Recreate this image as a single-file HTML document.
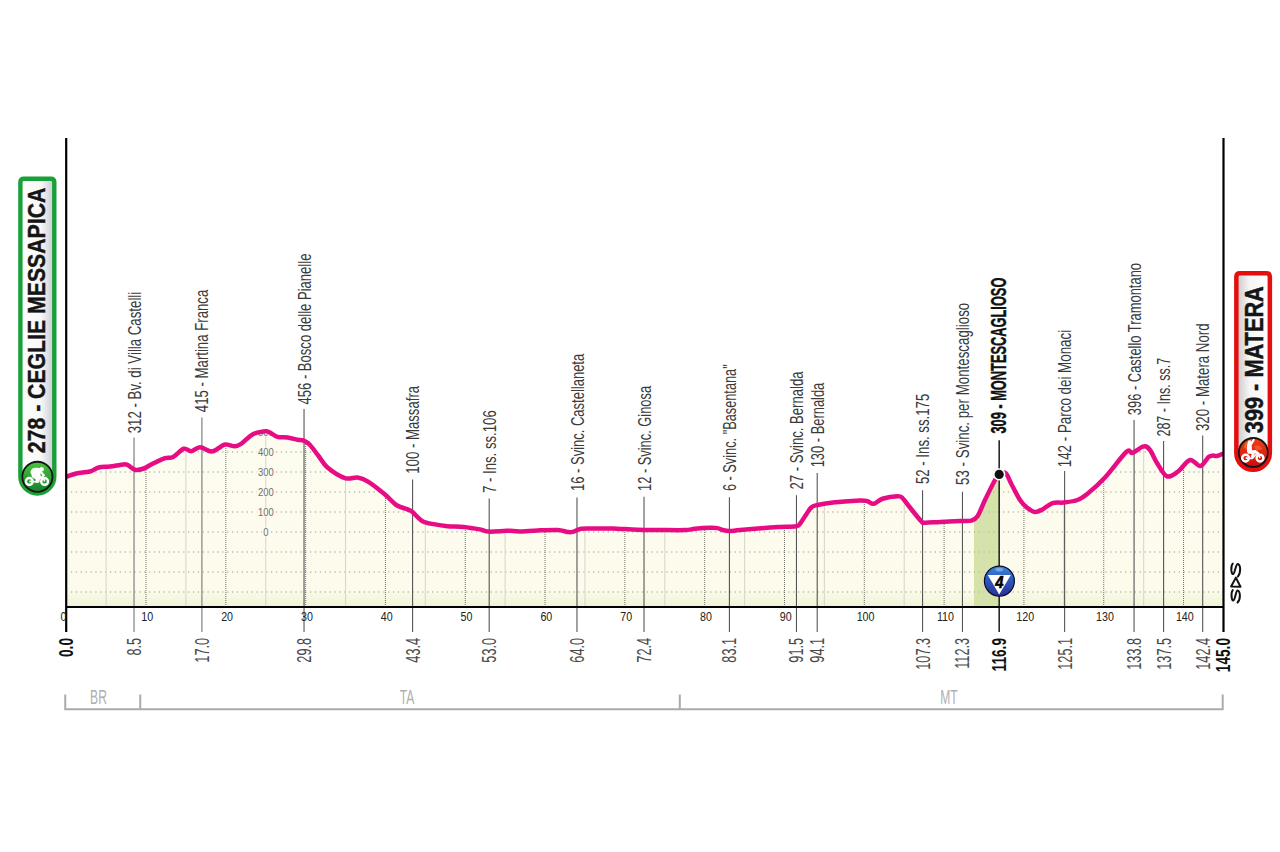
<!DOCTYPE html>
<html><head><meta charset="utf-8"><style>
html,body{margin:0;padding:0;background:#fff;width:1280px;height:852px;overflow:hidden}
svg{display:block}
text{font-family:"Liberation Sans",sans-serif}
</style></head><body>
<svg width="1280" height="852" viewBox="0 0 1280 852">
<defs>
<linearGradient id="fillg" x1="0" y1="430" x2="0" y2="607" gradientUnits="userSpaceOnUse">
<stop offset="0" stop-color="#FDFCF0"/><stop offset="0.9" stop-color="#FCFBEC"/><stop offset="1" stop-color="#F0F3D6"/>
</linearGradient>
<clipPath id="fclip"><path d="M66.20,476.90 C67.88,476.33 72.28,474.40 76.25,473.50 C80.22,472.60 86.25,472.50 90.00,471.50 C93.75,470.50 95.42,468.33 98.75,467.50 C102.08,466.67 105.83,467.02 110.00,466.50 C114.17,465.98 120.73,464.61 123.75,464.40 C126.77,464.19 126.22,464.36 128.10,465.25 C129.97,466.14 132.39,469.21 135.00,469.75 C137.61,470.29 140.83,469.50 143.75,468.50 C146.67,467.50 148.96,465.48 152.50,463.75 C156.04,462.02 161.57,459.24 165.00,458.10 C168.43,456.96 169.97,458.46 173.10,456.90 C176.22,455.34 180.72,449.69 183.75,448.75 C186.78,447.81 188.54,451.50 191.25,451.25 C193.96,451.00 196.67,447.21 200.00,447.25 C203.33,447.29 208.12,451.36 211.25,451.50 C214.38,451.64 216.46,449.28 218.75,448.10 C221.04,446.92 222.29,444.71 225.00,444.40 C227.71,444.09 232.29,446.36 235.00,446.25 C237.71,446.14 238.33,445.73 241.25,443.75 C244.17,441.77 248.54,436.48 252.50,434.40 C256.46,432.32 262.08,431.57 265.00,431.25 C267.92,430.93 267.92,431.56 270.00,432.50 C272.08,433.44 274.58,436.07 277.50,436.90 C280.42,437.73 284.17,437.02 287.50,437.50 C290.83,437.98 294.79,439.23 297.50,439.75 C300.21,440.27 301.67,439.73 303.75,440.60 C305.83,441.48 307.50,442.39 310.00,445.00 C312.50,447.61 315.83,452.50 318.75,456.25 C321.67,460.00 323.12,463.86 327.50,467.50 C331.88,471.14 340.00,476.43 345.00,478.10 C350.00,479.77 353.67,476.92 357.50,477.50 C361.33,478.08 363.42,478.77 368.00,481.60 C372.58,484.43 380.29,490.60 385.00,494.50 C389.71,498.40 392.50,502.52 396.25,505.00 C400.00,507.48 404.79,508.23 407.50,509.40 C410.21,510.57 410.00,510.03 412.50,512.00 C415.00,513.97 418.75,519.13 422.50,521.20 C426.25,523.27 430.83,523.57 435.00,524.40 C439.17,525.23 442.71,525.78 447.50,526.20 C452.29,526.62 458.33,526.37 463.75,526.90 C469.17,527.43 475.83,528.62 480.00,529.40 C484.17,530.18 484.79,531.33 488.75,531.60 C492.71,531.87 500.21,531.13 503.75,531.00 C507.29,530.87 507.29,530.73 510.00,530.80 C512.71,530.87 515.42,531.47 520.00,531.40 C524.58,531.33 531.25,530.63 537.50,530.40 C543.75,530.17 552.50,529.75 557.50,530.00 C562.50,530.25 565.00,531.58 567.50,531.90 C570.00,532.22 570.21,532.42 572.50,531.90 C574.79,531.38 577.50,529.32 581.25,528.75 C585.00,528.18 589.79,528.54 595.00,528.50 C600.21,528.46 605.42,528.29 612.50,528.50 C619.58,528.71 629.58,529.50 637.50,529.75 C645.42,530.00 652.08,529.94 660.00,530.00 C667.92,530.06 679.17,530.31 685.00,530.10 C690.83,529.89 690.83,529.13 695.00,528.75 C699.17,528.37 706.25,527.91 710.00,527.80 C713.75,527.69 715.42,527.73 717.50,528.10 C719.58,528.47 720.52,529.52 722.50,530.00 C724.48,530.48 726.48,530.98 729.40,531.00 C732.32,531.02 733.23,530.68 740.00,530.10 C746.77,529.52 763.33,528.03 770.00,527.50 C776.67,526.97 775.62,527.11 780.00,526.90 C784.38,526.69 792.92,526.77 796.25,526.25 C799.58,525.73 798.54,525.42 800.00,523.75 C801.46,522.08 803.12,518.96 805.00,516.25 C806.88,513.54 809.17,509.38 811.25,507.50 C813.33,505.62 813.54,505.88 817.50,505.00 C821.46,504.12 827.92,503.02 835.00,502.25 C842.08,501.48 854.58,500.57 860.00,500.40 C865.42,500.23 865.21,500.69 867.50,501.25 C869.79,501.81 871.25,504.17 873.75,503.75 C876.25,503.33 878.54,500.00 882.50,498.75 C886.46,497.50 894.17,496.36 897.50,496.25 C900.83,496.14 900.42,496.23 902.50,498.10 C904.58,499.98 906.88,503.64 910.00,507.50 C913.12,511.36 918.75,518.71 921.25,521.25 C923.75,523.79 921.88,522.64 925.00,522.75 C928.12,522.86 934.17,522.19 940.00,521.90 C945.83,521.61 954.79,521.22 960.00,521.00 C965.21,520.78 968.33,521.39 971.25,520.60 C974.17,519.81 975.21,519.68 977.50,516.25 C979.79,512.82 982.08,506.04 985.00,500.00 C987.92,493.96 992.60,484.27 995.00,480.00 C997.40,475.73 997.63,475.55 999.40,474.40 C1001.17,473.25 1003.62,471.54 1005.60,473.10 C1007.58,474.66 1008.85,479.27 1011.25,483.75 C1013.65,488.23 1017.29,495.94 1020.00,500.00 C1022.71,504.06 1025.00,506.12 1027.50,508.10 C1030.00,510.08 1032.50,511.68 1035.00,511.90 C1037.50,512.12 1039.58,510.87 1042.50,509.40 C1045.42,507.93 1048.96,504.25 1052.50,503.10 C1056.04,501.95 1059.58,503.02 1063.75,502.50 C1067.92,501.98 1073.54,501.46 1077.50,500.00 C1081.46,498.54 1082.92,497.50 1087.50,493.75 C1092.08,490.00 1098.54,484.46 1105.00,477.50 C1111.46,470.54 1121.67,456.12 1126.25,452.00 C1130.83,447.88 1129.58,453.73 1132.50,452.80 C1135.42,451.87 1140.83,446.87 1143.75,446.40 C1146.67,445.93 1147.79,447.23 1150.00,450.00 C1152.21,452.77 1154.17,458.62 1157.00,463.00 C1159.83,467.38 1163.50,474.88 1167.00,476.30 C1170.50,477.72 1174.17,474.22 1178.00,471.50 C1181.83,468.78 1186.28,460.92 1190.00,460.00 C1193.72,459.08 1197.22,466.50 1200.30,466.00 C1203.38,465.50 1206.38,458.73 1208.50,457.00 C1210.62,455.27 1211.58,455.77 1213.00,455.60 C1214.42,455.43 1215.25,456.35 1217.00,456.00 C1218.75,455.65 1222.42,453.92 1223.50,453.50 L1223.50,607.00 L66.20,607.00 Z"/></clipPath>
<linearGradient id="gbad" x1="0" y1="0" x2="1" y2="0">
<stop offset="0" stop-color="#ffffff"/><stop offset="0.6" stop-color="#f8f8f8"/><stop offset="1" stop-color="#c8c8d0"/>
</linearGradient>
<linearGradient id="rbad" x1="0" y1="0" x2="1" y2="0">
<stop offset="0" stop-color="#c8c8cc"/><stop offset="0.4" stop-color="#f6f6f6"/><stop offset="1" stop-color="#ffffff"/>
</linearGradient>
<linearGradient id="gcirc" x1="0" y1="0" x2="0" y2="1">
<stop offset="0" stop-color="#4CC23F"/><stop offset="1" stop-color="#17802A"/>
</linearGradient>
<linearGradient id="rcirc" x1="0" y1="0" x2="0" y2="1">
<stop offset="0" stop-color="#F0401A"/><stop offset="1" stop-color="#D00A0A"/>
</linearGradient>
<linearGradient id="bcirc" x1="0" y1="0" x2="0" y2="1">
<stop offset="0" stop-color="#3F86DA"/><stop offset="0.35" stop-color="#2E62C0"/><stop offset="1" stop-color="#2A2F9A"/>
</linearGradient>
</defs>

<path d="M66.20,476.90 C67.88,476.33 72.28,474.40 76.25,473.50 C80.22,472.60 86.25,472.50 90.00,471.50 C93.75,470.50 95.42,468.33 98.75,467.50 C102.08,466.67 105.83,467.02 110.00,466.50 C114.17,465.98 120.73,464.61 123.75,464.40 C126.77,464.19 126.22,464.36 128.10,465.25 C129.97,466.14 132.39,469.21 135.00,469.75 C137.61,470.29 140.83,469.50 143.75,468.50 C146.67,467.50 148.96,465.48 152.50,463.75 C156.04,462.02 161.57,459.24 165.00,458.10 C168.43,456.96 169.97,458.46 173.10,456.90 C176.22,455.34 180.72,449.69 183.75,448.75 C186.78,447.81 188.54,451.50 191.25,451.25 C193.96,451.00 196.67,447.21 200.00,447.25 C203.33,447.29 208.12,451.36 211.25,451.50 C214.38,451.64 216.46,449.28 218.75,448.10 C221.04,446.92 222.29,444.71 225.00,444.40 C227.71,444.09 232.29,446.36 235.00,446.25 C237.71,446.14 238.33,445.73 241.25,443.75 C244.17,441.77 248.54,436.48 252.50,434.40 C256.46,432.32 262.08,431.57 265.00,431.25 C267.92,430.93 267.92,431.56 270.00,432.50 C272.08,433.44 274.58,436.07 277.50,436.90 C280.42,437.73 284.17,437.02 287.50,437.50 C290.83,437.98 294.79,439.23 297.50,439.75 C300.21,440.27 301.67,439.73 303.75,440.60 C305.83,441.48 307.50,442.39 310.00,445.00 C312.50,447.61 315.83,452.50 318.75,456.25 C321.67,460.00 323.12,463.86 327.50,467.50 C331.88,471.14 340.00,476.43 345.00,478.10 C350.00,479.77 353.67,476.92 357.50,477.50 C361.33,478.08 363.42,478.77 368.00,481.60 C372.58,484.43 380.29,490.60 385.00,494.50 C389.71,498.40 392.50,502.52 396.25,505.00 C400.00,507.48 404.79,508.23 407.50,509.40 C410.21,510.57 410.00,510.03 412.50,512.00 C415.00,513.97 418.75,519.13 422.50,521.20 C426.25,523.27 430.83,523.57 435.00,524.40 C439.17,525.23 442.71,525.78 447.50,526.20 C452.29,526.62 458.33,526.37 463.75,526.90 C469.17,527.43 475.83,528.62 480.00,529.40 C484.17,530.18 484.79,531.33 488.75,531.60 C492.71,531.87 500.21,531.13 503.75,531.00 C507.29,530.87 507.29,530.73 510.00,530.80 C512.71,530.87 515.42,531.47 520.00,531.40 C524.58,531.33 531.25,530.63 537.50,530.40 C543.75,530.17 552.50,529.75 557.50,530.00 C562.50,530.25 565.00,531.58 567.50,531.90 C570.00,532.22 570.21,532.42 572.50,531.90 C574.79,531.38 577.50,529.32 581.25,528.75 C585.00,528.18 589.79,528.54 595.00,528.50 C600.21,528.46 605.42,528.29 612.50,528.50 C619.58,528.71 629.58,529.50 637.50,529.75 C645.42,530.00 652.08,529.94 660.00,530.00 C667.92,530.06 679.17,530.31 685.00,530.10 C690.83,529.89 690.83,529.13 695.00,528.75 C699.17,528.37 706.25,527.91 710.00,527.80 C713.75,527.69 715.42,527.73 717.50,528.10 C719.58,528.47 720.52,529.52 722.50,530.00 C724.48,530.48 726.48,530.98 729.40,531.00 C732.32,531.02 733.23,530.68 740.00,530.10 C746.77,529.52 763.33,528.03 770.00,527.50 C776.67,526.97 775.62,527.11 780.00,526.90 C784.38,526.69 792.92,526.77 796.25,526.25 C799.58,525.73 798.54,525.42 800.00,523.75 C801.46,522.08 803.12,518.96 805.00,516.25 C806.88,513.54 809.17,509.38 811.25,507.50 C813.33,505.62 813.54,505.88 817.50,505.00 C821.46,504.12 827.92,503.02 835.00,502.25 C842.08,501.48 854.58,500.57 860.00,500.40 C865.42,500.23 865.21,500.69 867.50,501.25 C869.79,501.81 871.25,504.17 873.75,503.75 C876.25,503.33 878.54,500.00 882.50,498.75 C886.46,497.50 894.17,496.36 897.50,496.25 C900.83,496.14 900.42,496.23 902.50,498.10 C904.58,499.98 906.88,503.64 910.00,507.50 C913.12,511.36 918.75,518.71 921.25,521.25 C923.75,523.79 921.88,522.64 925.00,522.75 C928.12,522.86 934.17,522.19 940.00,521.90 C945.83,521.61 954.79,521.22 960.00,521.00 C965.21,520.78 968.33,521.39 971.25,520.60 C974.17,519.81 975.21,519.68 977.50,516.25 C979.79,512.82 982.08,506.04 985.00,500.00 C987.92,493.96 992.60,484.27 995.00,480.00 C997.40,475.73 997.63,475.55 999.40,474.40 C1001.17,473.25 1003.62,471.54 1005.60,473.10 C1007.58,474.66 1008.85,479.27 1011.25,483.75 C1013.65,488.23 1017.29,495.94 1020.00,500.00 C1022.71,504.06 1025.00,506.12 1027.50,508.10 C1030.00,510.08 1032.50,511.68 1035.00,511.90 C1037.50,512.12 1039.58,510.87 1042.50,509.40 C1045.42,507.93 1048.96,504.25 1052.50,503.10 C1056.04,501.95 1059.58,503.02 1063.75,502.50 C1067.92,501.98 1073.54,501.46 1077.50,500.00 C1081.46,498.54 1082.92,497.50 1087.50,493.75 C1092.08,490.00 1098.54,484.46 1105.00,477.50 C1111.46,470.54 1121.67,456.12 1126.25,452.00 C1130.83,447.88 1129.58,453.73 1132.50,452.80 C1135.42,451.87 1140.83,446.87 1143.75,446.40 C1146.67,445.93 1147.79,447.23 1150.00,450.00 C1152.21,452.77 1154.17,458.62 1157.00,463.00 C1159.83,467.38 1163.50,474.88 1167.00,476.30 C1170.50,477.72 1174.17,474.22 1178.00,471.50 C1181.83,468.78 1186.28,460.92 1190.00,460.00 C1193.72,459.08 1197.22,466.50 1200.30,466.00 C1203.38,465.50 1206.38,458.73 1208.50,457.00 C1210.62,455.27 1211.58,455.77 1213.00,455.60 C1214.42,455.43 1215.25,456.35 1217.00,456.00 C1218.75,455.65 1222.42,453.92 1223.50,453.50 L1223.50,607.00 L66.20,607.00 Z" fill="url(#fillg)"/>
<g clip-path="url(#fclip)"><rect x="974" y="400" width="25.18" height="210" fill="#D5E3A8"/></g>
<g clip-path="url(#fclip)">
<line x1="70.9" y1="432" x2="1223.5" y2="432" stroke="#BDBDB0" stroke-width="1.3" stroke-dasharray="1.3 3.58"/>
<line x1="70.9" y1="452" x2="1223.5" y2="452" stroke="#BDBDB0" stroke-width="1.3" stroke-dasharray="1.3 3.58"/>
<line x1="70.9" y1="472" x2="1223.5" y2="472" stroke="#BDBDB0" stroke-width="1.3" stroke-dasharray="1.3 3.58"/>
<line x1="70.9" y1="492" x2="1223.5" y2="492" stroke="#BDBDB0" stroke-width="1.3" stroke-dasharray="1.3 3.58"/>
<line x1="70.9" y1="512" x2="1223.5" y2="512" stroke="#BDBDB0" stroke-width="1.3" stroke-dasharray="1.3 3.58"/>
<line x1="70.9" y1="532" x2="1223.5" y2="532" stroke="#BDBDB0" stroke-width="1.3" stroke-dasharray="1.3 3.58"/>
<line x1="70.9" y1="552" x2="1223.5" y2="552" stroke="#BDBDB0" stroke-width="1.3" stroke-dasharray="1.3 3.58"/>
<line x1="70.9" y1="572" x2="1223.5" y2="572" stroke="#BDBDB0" stroke-width="1.3" stroke-dasharray="1.3 3.58"/>
<line x1="70.9" y1="592" x2="1223.5" y2="592" stroke="#BDBDB0" stroke-width="1.3" stroke-dasharray="1.3 3.58"/>
<line x1="106.11" y1="400" x2="106.11" y2="607" stroke="#D8D8CC" stroke-width="1.1"/>
<line x1="146.01" y1="400" x2="146.01" y2="607" stroke="#727268" stroke-width="1" stroke-dasharray="1 1"/>
<line x1="185.92" y1="400" x2="185.92" y2="607" stroke="#D8D8CC" stroke-width="1.1"/>
<line x1="225.82" y1="400" x2="225.82" y2="607" stroke="#727268" stroke-width="1" stroke-dasharray="1 1"/>
<line x1="265.73" y1="400" x2="265.73" y2="607" stroke="#D8D8CC" stroke-width="1.1"/>
<line x1="305.63" y1="400" x2="305.63" y2="607" stroke="#727268" stroke-width="1" stroke-dasharray="1 1"/>
<line x1="345.53" y1="400" x2="345.53" y2="607" stroke="#D8D8CC" stroke-width="1.1"/>
<line x1="385.44" y1="400" x2="385.44" y2="607" stroke="#727268" stroke-width="1" stroke-dasharray="1 1"/>
<line x1="425.34" y1="400" x2="425.34" y2="607" stroke="#D8D8CC" stroke-width="1.1"/>
<line x1="465.25" y1="400" x2="465.25" y2="607" stroke="#727268" stroke-width="1" stroke-dasharray="1 1"/>
<line x1="505.15" y1="400" x2="505.15" y2="607" stroke="#D8D8CC" stroke-width="1.1"/>
<line x1="545.06" y1="400" x2="545.06" y2="607" stroke="#727268" stroke-width="1" stroke-dasharray="1 1"/>
<line x1="584.97" y1="400" x2="584.97" y2="607" stroke="#D8D8CC" stroke-width="1.1"/>
<line x1="624.87" y1="400" x2="624.87" y2="607" stroke="#727268" stroke-width="1" stroke-dasharray="1 1"/>
<line x1="664.78" y1="400" x2="664.78" y2="607" stroke="#D8D8CC" stroke-width="1.1"/>
<line x1="704.68" y1="400" x2="704.68" y2="607" stroke="#727268" stroke-width="1" stroke-dasharray="1 1"/>
<line x1="744.59" y1="400" x2="744.59" y2="607" stroke="#D8D8CC" stroke-width="1.1"/>
<line x1="784.49" y1="400" x2="784.49" y2="607" stroke="#727268" stroke-width="1" stroke-dasharray="1 1"/>
<line x1="824.39" y1="400" x2="824.39" y2="607" stroke="#D8D8CC" stroke-width="1.1"/>
<line x1="864.30" y1="400" x2="864.30" y2="607" stroke="#727268" stroke-width="1" stroke-dasharray="1 1"/>
<line x1="904.21" y1="400" x2="904.21" y2="607" stroke="#D8D8CC" stroke-width="1.1"/>
<line x1="944.11" y1="400" x2="944.11" y2="607" stroke="#727268" stroke-width="1" stroke-dasharray="1 1"/>
<line x1="984.01" y1="400" x2="984.01" y2="607" stroke="#D8D8CC" stroke-width="1.1"/>
<line x1="1023.92" y1="400" x2="1023.92" y2="607" stroke="#727268" stroke-width="1" stroke-dasharray="1 1"/>
<line x1="1063.83" y1="400" x2="1063.83" y2="607" stroke="#D8D8CC" stroke-width="1.1"/>
<line x1="1103.73" y1="400" x2="1103.73" y2="607" stroke="#727268" stroke-width="1" stroke-dasharray="1 1"/>
<line x1="1143.63" y1="400" x2="1143.63" y2="607" stroke="#D8D8CC" stroke-width="1.1"/>
<line x1="1183.54" y1="400" x2="1183.54" y2="607" stroke="#727268" stroke-width="1" stroke-dasharray="1 1"/>
<rect x="256.5" y="427.5" width="19" height="9" fill="#FCFBEE"/>
<text x="266" y="435.7" font-size="10.5" fill="#6E6E6E" text-anchor="middle" transform="translate(266 0) scale(0.9 1) translate(-266 0)">500</text>
<rect x="256.5" y="447.5" width="19" height="9" fill="#FCFBEE"/>
<text x="266" y="455.7" font-size="10.5" fill="#6E6E6E" text-anchor="middle" transform="translate(266 0) scale(0.9 1) translate(-266 0)">400</text>
<rect x="256.5" y="467.5" width="19" height="9" fill="#FCFBEE"/>
<text x="266" y="475.7" font-size="10.5" fill="#6E6E6E" text-anchor="middle" transform="translate(266 0) scale(0.9 1) translate(-266 0)">300</text>
<rect x="256.5" y="487.5" width="19" height="9" fill="#FCFBEE"/>
<text x="266" y="495.7" font-size="10.5" fill="#6E6E6E" text-anchor="middle" transform="translate(266 0) scale(0.9 1) translate(-266 0)">200</text>
<rect x="256.5" y="507.5" width="19" height="9" fill="#FCFBEE"/>
<text x="266" y="515.7" font-size="10.5" fill="#6E6E6E" text-anchor="middle" transform="translate(266 0) scale(0.9 1) translate(-266 0)">100</text>
<rect x="262.0" y="527.5" width="8" height="9" fill="#FCFBEE"/>
<text x="266" y="535.7" font-size="10.5" fill="#6E6E6E" text-anchor="middle" transform="translate(266 0) scale(0.9 1) translate(-266 0)">0</text>
</g>
<line x1="134.04" y1="437.5" x2="134.04" y2="632" stroke="#999" stroke-width="1.5"/>
<line x1="201.88" y1="417.5" x2="201.88" y2="632" stroke="#999" stroke-width="1.5"/>
<line x1="304.03" y1="409.0" x2="304.03" y2="632" stroke="#555" stroke-width="1.1"/>
<line x1="412.58" y1="479.4" x2="412.58" y2="632" stroke="#555" stroke-width="1.1"/>
<line x1="489.19" y1="498.5" x2="489.19" y2="632" stroke="#555" stroke-width="1.1"/>
<line x1="576.98" y1="497.4" x2="576.98" y2="632" stroke="#555" stroke-width="1.1"/>
<line x1="644.02" y1="496.7" x2="644.02" y2="632" stroke="#555" stroke-width="1.1"/>
<line x1="729.42" y1="497.3" x2="729.42" y2="632" stroke="#555" stroke-width="1.1"/>
<line x1="796.46" y1="495.2" x2="796.46" y2="632" stroke="#555" stroke-width="1.1"/>
<line x1="817.21" y1="473.0" x2="817.21" y2="632" stroke="#555" stroke-width="1.1"/>
<line x1="922.56" y1="490.2" x2="922.56" y2="632" stroke="#555" stroke-width="1.1"/>
<line x1="962.47" y1="491.7" x2="962.47" y2="632" stroke="#555" stroke-width="1.1"/>
<line x1="999.18" y1="440.3" x2="999.18" y2="632" stroke="#1a1a1a" stroke-width="1.5"/>
<line x1="1064.62" y1="471.1" x2="1064.62" y2="632" stroke="#555" stroke-width="1.1"/>
<line x1="1134.06" y1="420.0" x2="1134.06" y2="632" stroke="#555" stroke-width="1.1"/>
<line x1="1163.59" y1="441.0" x2="1163.59" y2="632" stroke="#555" stroke-width="1.1"/>
<line x1="1202.69" y1="435.5" x2="1202.69" y2="632" stroke="#555" stroke-width="1.1"/>
<path d="M66.20,476.90 C67.88,476.33 72.28,474.40 76.25,473.50 C80.22,472.60 86.25,472.50 90.00,471.50 C93.75,470.50 95.42,468.33 98.75,467.50 C102.08,466.67 105.83,467.02 110.00,466.50 C114.17,465.98 120.73,464.61 123.75,464.40 C126.77,464.19 126.22,464.36 128.10,465.25 C129.97,466.14 132.39,469.21 135.00,469.75 C137.61,470.29 140.83,469.50 143.75,468.50 C146.67,467.50 148.96,465.48 152.50,463.75 C156.04,462.02 161.57,459.24 165.00,458.10 C168.43,456.96 169.97,458.46 173.10,456.90 C176.22,455.34 180.72,449.69 183.75,448.75 C186.78,447.81 188.54,451.50 191.25,451.25 C193.96,451.00 196.67,447.21 200.00,447.25 C203.33,447.29 208.12,451.36 211.25,451.50 C214.38,451.64 216.46,449.28 218.75,448.10 C221.04,446.92 222.29,444.71 225.00,444.40 C227.71,444.09 232.29,446.36 235.00,446.25 C237.71,446.14 238.33,445.73 241.25,443.75 C244.17,441.77 248.54,436.48 252.50,434.40 C256.46,432.32 262.08,431.57 265.00,431.25 C267.92,430.93 267.92,431.56 270.00,432.50 C272.08,433.44 274.58,436.07 277.50,436.90 C280.42,437.73 284.17,437.02 287.50,437.50 C290.83,437.98 294.79,439.23 297.50,439.75 C300.21,440.27 301.67,439.73 303.75,440.60 C305.83,441.48 307.50,442.39 310.00,445.00 C312.50,447.61 315.83,452.50 318.75,456.25 C321.67,460.00 323.12,463.86 327.50,467.50 C331.88,471.14 340.00,476.43 345.00,478.10 C350.00,479.77 353.67,476.92 357.50,477.50 C361.33,478.08 363.42,478.77 368.00,481.60 C372.58,484.43 380.29,490.60 385.00,494.50 C389.71,498.40 392.50,502.52 396.25,505.00 C400.00,507.48 404.79,508.23 407.50,509.40 C410.21,510.57 410.00,510.03 412.50,512.00 C415.00,513.97 418.75,519.13 422.50,521.20 C426.25,523.27 430.83,523.57 435.00,524.40 C439.17,525.23 442.71,525.78 447.50,526.20 C452.29,526.62 458.33,526.37 463.75,526.90 C469.17,527.43 475.83,528.62 480.00,529.40 C484.17,530.18 484.79,531.33 488.75,531.60 C492.71,531.87 500.21,531.13 503.75,531.00 C507.29,530.87 507.29,530.73 510.00,530.80 C512.71,530.87 515.42,531.47 520.00,531.40 C524.58,531.33 531.25,530.63 537.50,530.40 C543.75,530.17 552.50,529.75 557.50,530.00 C562.50,530.25 565.00,531.58 567.50,531.90 C570.00,532.22 570.21,532.42 572.50,531.90 C574.79,531.38 577.50,529.32 581.25,528.75 C585.00,528.18 589.79,528.54 595.00,528.50 C600.21,528.46 605.42,528.29 612.50,528.50 C619.58,528.71 629.58,529.50 637.50,529.75 C645.42,530.00 652.08,529.94 660.00,530.00 C667.92,530.06 679.17,530.31 685.00,530.10 C690.83,529.89 690.83,529.13 695.00,528.75 C699.17,528.37 706.25,527.91 710.00,527.80 C713.75,527.69 715.42,527.73 717.50,528.10 C719.58,528.47 720.52,529.52 722.50,530.00 C724.48,530.48 726.48,530.98 729.40,531.00 C732.32,531.02 733.23,530.68 740.00,530.10 C746.77,529.52 763.33,528.03 770.00,527.50 C776.67,526.97 775.62,527.11 780.00,526.90 C784.38,526.69 792.92,526.77 796.25,526.25 C799.58,525.73 798.54,525.42 800.00,523.75 C801.46,522.08 803.12,518.96 805.00,516.25 C806.88,513.54 809.17,509.38 811.25,507.50 C813.33,505.62 813.54,505.88 817.50,505.00 C821.46,504.12 827.92,503.02 835.00,502.25 C842.08,501.48 854.58,500.57 860.00,500.40 C865.42,500.23 865.21,500.69 867.50,501.25 C869.79,501.81 871.25,504.17 873.75,503.75 C876.25,503.33 878.54,500.00 882.50,498.75 C886.46,497.50 894.17,496.36 897.50,496.25 C900.83,496.14 900.42,496.23 902.50,498.10 C904.58,499.98 906.88,503.64 910.00,507.50 C913.12,511.36 918.75,518.71 921.25,521.25 C923.75,523.79 921.88,522.64 925.00,522.75 C928.12,522.86 934.17,522.19 940.00,521.90 C945.83,521.61 954.79,521.22 960.00,521.00 C965.21,520.78 968.33,521.39 971.25,520.60 C974.17,519.81 975.21,519.68 977.50,516.25 C979.79,512.82 982.08,506.04 985.00,500.00 C987.92,493.96 992.60,484.27 995.00,480.00 C997.40,475.73 997.63,475.55 999.40,474.40 C1001.17,473.25 1003.62,471.54 1005.60,473.10 C1007.58,474.66 1008.85,479.27 1011.25,483.75 C1013.65,488.23 1017.29,495.94 1020.00,500.00 C1022.71,504.06 1025.00,506.12 1027.50,508.10 C1030.00,510.08 1032.50,511.68 1035.00,511.90 C1037.50,512.12 1039.58,510.87 1042.50,509.40 C1045.42,507.93 1048.96,504.25 1052.50,503.10 C1056.04,501.95 1059.58,503.02 1063.75,502.50 C1067.92,501.98 1073.54,501.46 1077.50,500.00 C1081.46,498.54 1082.92,497.50 1087.50,493.75 C1092.08,490.00 1098.54,484.46 1105.00,477.50 C1111.46,470.54 1121.67,456.12 1126.25,452.00 C1130.83,447.88 1129.58,453.73 1132.50,452.80 C1135.42,451.87 1140.83,446.87 1143.75,446.40 C1146.67,445.93 1147.79,447.23 1150.00,450.00 C1152.21,452.77 1154.17,458.62 1157.00,463.00 C1159.83,467.38 1163.50,474.88 1167.00,476.30 C1170.50,477.72 1174.17,474.22 1178.00,471.50 C1181.83,468.78 1186.28,460.92 1190.00,460.00 C1193.72,459.08 1197.22,466.50 1200.30,466.00 C1203.38,465.50 1206.38,458.73 1208.50,457.00 C1210.62,455.27 1211.58,455.77 1213.00,455.60 C1214.42,455.43 1215.25,456.35 1217.00,456.00 C1218.75,455.65 1222.42,453.92 1223.50,453.50" fill="none" stroke="#E80C84" stroke-width="4.5" stroke-linejoin="round" stroke-linecap="butt"/>
<circle cx="999.18" cy="474.4" r="6.2" fill="#fff"/><circle cx="999.18" cy="474.4" r="4.6" fill="#111"/>
<line x1="66.20" y1="138" x2="66.20" y2="632" stroke="#000" stroke-width="2.2"/>
<line x1="1223.50" y1="138" x2="1223.50" y2="632" stroke="#000" stroke-width="2.2"/>
<line x1="66.20" y1="607" x2="1223.50" y2="607" stroke="#000" stroke-width="2.2"/>
<text x="0" y="0" font-size="12.6" fill="#222" text-anchor="middle" transform="translate(147.31 620.8) scale(0.85 1)">10</text>
<text x="0" y="0" font-size="12.6" fill="#222" text-anchor="middle" transform="translate(227.12 620.8) scale(0.85 1)">20</text>
<text x="0" y="0" font-size="12.6" fill="#222" text-anchor="middle" transform="translate(306.93 620.8) scale(0.85 1)">30</text>
<text x="0" y="0" font-size="12.6" fill="#222" text-anchor="middle" transform="translate(386.74 620.8) scale(0.85 1)">40</text>
<text x="0" y="0" font-size="12.6" fill="#222" text-anchor="middle" transform="translate(466.55 620.8) scale(0.85 1)">50</text>
<text x="0" y="0" font-size="12.6" fill="#222" text-anchor="middle" transform="translate(546.36 620.8) scale(0.85 1)">60</text>
<text x="0" y="0" font-size="12.6" fill="#222" text-anchor="middle" transform="translate(626.17 620.8) scale(0.85 1)">70</text>
<text x="0" y="0" font-size="12.6" fill="#222" text-anchor="middle" transform="translate(705.98 620.8) scale(0.85 1)">80</text>
<text x="0" y="0" font-size="12.6" fill="#222" text-anchor="middle" transform="translate(785.79 620.8) scale(0.85 1)">90</text>
<text x="0" y="0" font-size="12.6" fill="#222" text-anchor="middle" transform="translate(865.60 620.8) scale(0.85 1)">100</text>
<text x="0" y="0" font-size="12.6" fill="#222" text-anchor="middle" transform="translate(945.41 620.8) scale(0.85 1)">110</text>
<text x="0" y="0" font-size="12.6" fill="#222" text-anchor="middle" transform="translate(1025.22 620.8) scale(0.85 1)">120</text>
<text x="0" y="0" font-size="12.6" fill="#222" text-anchor="middle" transform="translate(1105.03 620.8) scale(0.85 1)">130</text>
<text x="0" y="0" font-size="12.6" fill="#222" text-anchor="middle" transform="translate(1184.84 620.8) scale(0.85 1)">140</text>
<text x="0" y="0" font-size="12.6" fill="#222" text-anchor="end" transform="translate(66.40 620.8) scale(0.85 1)">0</text>
<text x="0" y="0" font-size="19.0" font-weight="normal" fill="#3A3A3A" textLength="141.5" lengthAdjust="spacingAndGlyphs" transform="translate(140.64 433.3) rotate(-90)">312 - Bv. di Villa Castelli</text>
<text x="0" y="0" font-size="19.0" font-weight="normal" fill="#3A3A3A" textLength="122.5" lengthAdjust="spacingAndGlyphs" transform="translate(208.48 412.2) rotate(-90)">415 - Martina Franca</text>
<text x="0" y="0" font-size="19.0" font-weight="normal" fill="#3A3A3A" textLength="150.9" lengthAdjust="spacingAndGlyphs" transform="translate(310.63 404.5) rotate(-90)">456 - Bosco delle Pianelle</text>
<text x="0" y="0" font-size="19.0" font-weight="normal" fill="#3A3A3A" textLength="87.8" lengthAdjust="spacingAndGlyphs" transform="translate(419.18 473.7) rotate(-90)">100 - Massafra</text>
<text x="0" y="0" font-size="19.0" font-weight="normal" fill="#3A3A3A" textLength="82.9" lengthAdjust="spacingAndGlyphs" transform="translate(495.79 493.1) rotate(-90)">7 - Ins. ss.106</text>
<text x="0" y="0" font-size="19.0" font-weight="normal" fill="#3A3A3A" textLength="137.2" lengthAdjust="spacingAndGlyphs" transform="translate(583.58 491.0) rotate(-90)">16 - Svinc. Castellaneta</text>
<text x="0" y="0" font-size="19.0" font-weight="normal" fill="#3A3A3A" textLength="105.1" lengthAdjust="spacingAndGlyphs" transform="translate(650.62 491.0) rotate(-90)">12 - Svinc. Ginosa</text>
<text x="0" y="0" font-size="19.0" font-weight="normal" fill="#3A3A3A" textLength="126.8" lengthAdjust="spacingAndGlyphs" transform="translate(736.02 491.1) rotate(-90)">6 - Svinc. &quot;Basentana&quot;</text>
<text x="0" y="0" font-size="19.0" font-weight="normal" fill="#3A3A3A" textLength="118.0" lengthAdjust="spacingAndGlyphs" transform="translate(803.06 489.5) rotate(-90)">27 - Svinc. Bernalda</text>
<text x="0" y="0" font-size="19.0" font-weight="normal" fill="#3A3A3A" textLength="84.6" lengthAdjust="spacingAndGlyphs" transform="translate(823.81 467.3) rotate(-90)">130 - Bernalda</text>
<text x="0" y="0" font-size="19.0" font-weight="normal" fill="#3A3A3A" textLength="90.4" lengthAdjust="spacingAndGlyphs" transform="translate(929.16 484.1) rotate(-90)">52 - Ins. ss.175</text>
<text x="0" y="0" font-size="19.0" font-weight="normal" fill="#3A3A3A" textLength="182.1" lengthAdjust="spacingAndGlyphs" transform="translate(969.07 484.9) rotate(-90)">53 - Svinc. per Montescaglioso</text>
<text x="0" y="0" font-size="21.2" font-weight="bold" stroke="#111" stroke-width="0.4" fill="#111" textLength="156.0" lengthAdjust="spacingAndGlyphs" transform="translate(1006.48 433.6) rotate(-90)">309 - MONTESCAGLIOSO</text>
<text x="0" y="0" font-size="19.0" font-weight="normal" fill="#3A3A3A" textLength="137.5" lengthAdjust="spacingAndGlyphs" transform="translate(1071.22 467.3) rotate(-90)">142 - Parco dei Monaci</text>
<text x="0" y="0" font-size="19.0" font-weight="normal" fill="#3A3A3A" textLength="152.2" lengthAdjust="spacingAndGlyphs" transform="translate(1140.66 415.2) rotate(-90)">396 - Castello Tramontano</text>
<text x="0" y="0" font-size="19.0" font-weight="normal" fill="#3A3A3A" textLength="78.8" lengthAdjust="spacingAndGlyphs" transform="translate(1170.19 436.6) rotate(-90)">287 - Ins. ss.7</text>
<text x="0" y="0" font-size="19.0" font-weight="normal" fill="#3A3A3A" textLength="107.6" lengthAdjust="spacingAndGlyphs" transform="translate(1209.29 431.0) rotate(-90)">320 - Matera Nord</text>
<text x="0" y="0" font-size="19.8" font-weight="bold" fill="#111" text-anchor="end" transform="translate(73.20 638) rotate(-90) scale(0.690 1)">0.0</text>
<text x="0" y="0" font-size="19.8" font-weight="normal" fill="#4A4A4A" text-anchor="end" transform="translate(141.04 638) rotate(-90) scale(0.640 1)">8.5</text>
<text x="0" y="0" font-size="19.8" font-weight="normal" fill="#4A4A4A" text-anchor="end" transform="translate(208.88 638) rotate(-90) scale(0.640 1)">17.0</text>
<text x="0" y="0" font-size="19.8" font-weight="normal" fill="#4A4A4A" text-anchor="end" transform="translate(311.03 638) rotate(-90) scale(0.640 1)">29.8</text>
<text x="0" y="0" font-size="19.8" font-weight="normal" fill="#4A4A4A" text-anchor="end" transform="translate(419.58 638) rotate(-90) scale(0.640 1)">43.4</text>
<text x="0" y="0" font-size="19.8" font-weight="normal" fill="#4A4A4A" text-anchor="end" transform="translate(496.19 638) rotate(-90) scale(0.640 1)">53.0</text>
<text x="0" y="0" font-size="19.8" font-weight="normal" fill="#4A4A4A" text-anchor="end" transform="translate(583.98 638) rotate(-90) scale(0.640 1)">64.0</text>
<text x="0" y="0" font-size="19.8" font-weight="normal" fill="#4A4A4A" text-anchor="end" transform="translate(651.02 638) rotate(-90) scale(0.640 1)">72.4</text>
<text x="0" y="0" font-size="19.8" font-weight="normal" fill="#4A4A4A" text-anchor="end" transform="translate(736.42 638) rotate(-90) scale(0.640 1)">83.1</text>
<text x="0" y="0" font-size="19.8" font-weight="normal" fill="#4A4A4A" text-anchor="end" transform="translate(803.46 638) rotate(-90) scale(0.640 1)">91.5</text>
<text x="0" y="0" font-size="19.8" font-weight="normal" fill="#4A4A4A" text-anchor="end" transform="translate(824.21 638) rotate(-90) scale(0.640 1)">94.1</text>
<text x="0" y="0" font-size="19.8" font-weight="normal" fill="#4A4A4A" text-anchor="end" transform="translate(929.56 638) rotate(-90) scale(0.640 1)">107.3</text>
<text x="0" y="0" font-size="19.8" font-weight="normal" fill="#4A4A4A" text-anchor="end" transform="translate(969.47 638) rotate(-90) scale(0.640 1)">112.3</text>
<text x="0" y="0" font-size="19.8" font-weight="bold" fill="#111" text-anchor="end" transform="translate(1006.18 638) rotate(-90) scale(0.690 1)">116.9</text>
<text x="0" y="0" font-size="19.8" font-weight="normal" fill="#4A4A4A" text-anchor="end" transform="translate(1071.62 638) rotate(-90) scale(0.640 1)">125.1</text>
<text x="0" y="0" font-size="19.8" font-weight="normal" fill="#4A4A4A" text-anchor="end" transform="translate(1141.06 638) rotate(-90) scale(0.640 1)">133.8</text>
<text x="0" y="0" font-size="19.8" font-weight="normal" fill="#4A4A4A" text-anchor="end" transform="translate(1170.59 638) rotate(-90) scale(0.640 1)">137.5</text>
<text x="0" y="0" font-size="19.8" font-weight="normal" fill="#4A4A4A" text-anchor="end" transform="translate(1209.69 638) rotate(-90) scale(0.640 1)">142.4</text>
<text x="0" y="0" font-size="19.8" font-weight="bold" fill="#111" text-anchor="end" transform="translate(1230.44 638) rotate(-90) scale(0.690 1)">145.0</text>
<path d="M65.25,694.4 V709.3 H1222.7 V694.4 M140.25,694.4 V709.3 M679.8,694.4 V709.3" fill="none" stroke="#ABABAB" stroke-width="2"/>
<text x="0" y="0" font-size="19.5" fill="#AFAFAF" text-anchor="middle" transform="translate(98.5 703.8) scale(0.62 1)">BR</text>
<text x="0" y="0" font-size="19.5" fill="#AFAFAF" text-anchor="middle" transform="translate(407.0 703.8) scale(0.62 1)">TA</text>
<text x="0" y="0" font-size="19.5" fill="#AFAFAF" text-anchor="middle" transform="translate(949.0 703.8) scale(0.62 1)">MT</text>
<path d="M20.4,182.2 Q20.4,178.7 23.9,178.7 H50.8 Q54.3,178.7 54.3,182.2 V476.55 A16.95,16.95 0 0 1 20.4,476.55 Z" fill="url(#gbad)" stroke="#1AA038" stroke-width="4.4"/>
<text x="0" y="0" font-size="24.7" font-weight="bold" fill="#151515" stroke="#151515" stroke-width="0.45" textLength="265.5" lengthAdjust="spacingAndGlyphs" transform="translate(45.4 453.2) rotate(-90)">278 - CEGLIE MESSAPICA</text>
<circle cx="37.4" cy="476.8" r="15.05" fill="url(#gcirc)" stroke="#141414" stroke-width="1.8"/>
<g transform="translate(37.40 476.80)">
<circle cx="-8.1" cy="4.6" r="3.4" fill="none" stroke="#fff" stroke-width="2.4"/>
<circle cx="7.2" cy="4.6" r="3.4" fill="none" stroke="#fff" stroke-width="2.4"/>
<path d="M-8.1,4.6 L-1,5 L5.5,-1 L7.2,4.6" fill="none" stroke="#fff" stroke-width="1.6" stroke-linejoin="round"/>
<path d="M-6.8,-3.2 C-7.4,-7.2 -4.8,-9.2 -0.5,-9 L3.2,-8.6 L4.4,-5.2 L2.6,-2.6 L-0.8,-2.2 Z" fill="#fff"/>
<circle cx="4.3" cy="-7.6" r="2.2" fill="#fff"/>
<path d="M2.2,-6 L6.4,-1.6" stroke="#fff" stroke-width="2.3" stroke-linecap="round"/>
<path d="M-6.4,-3.6 L2.8,-3.2 L3.6,0.2 L1.6,6 L-2.2,6 L-1.6,2.6 L-5.4,0.4 Z" fill="#fff"/>
</g>
<path d="M1236.35,276.75 Q1236.35,273.25 1239.85,273.25 H1266.35 Q1269.85,273.25 1269.85,276.75 V453 A16.75,16.75 0 0 1 1236.35,453 Z" fill="url(#rbad)" stroke="#E50E0E" stroke-width="4.5"/>
<text x="0" y="0" font-size="25" font-weight="bold" fill="#151515" stroke="#151515" stroke-width="0.45" textLength="147" lengthAdjust="spacingAndGlyphs" transform="translate(1263.1 433.2) rotate(-90)">399 - MATERA</text>
<circle cx="1253.3" cy="452.5" r="14.5" fill="url(#rcirc)" stroke="#141414" stroke-width="1.8"/>
<g transform="translate(1253.30 452.50)">
<path d="M-9.5,-4 C-9,-9 -7,-11 -5.5,-11 L-7,-4 Z" fill="#F26A2A" opacity="0.8"/>
<path d="M1,-6 C4,-8 8,-7 9,-3 L3,-2 Z" fill="#F26A2A" opacity="0.7"/>
<circle cx="-7.7" cy="5.6" r="3.4" fill="none" stroke="#fff" stroke-width="2.4"/>
<circle cx="6.7" cy="5.6" r="3.4" fill="none" stroke="#fff" stroke-width="2.4"/>
<path d="M-7.7,5.6 L-1,6 L4.5,0 L6.7,5.6" fill="none" stroke="#fff" stroke-width="1.6" stroke-linejoin="round"/>
<path d="M-6.2,-0.5 C-6.8,-4.5 -6.6,-8.5 -5,-10.5 L-2.6,-10.8 C-1.6,-8 -1.2,-4.5 -1.4,-1 Z" fill="#fff"/>
<circle cx="-3.6" cy="-10.2" r="2" fill="#fff"/>
<path d="M-2.4,-8 L0.4,-12.6" stroke="#fff" stroke-width="2.1" stroke-linecap="round"/>
<path d="M-5.8,-2 L2.4,-2.6 L6.2,0.6 L4.8,2.6 L1.6,0.8 L-0.4,5.4 L-2.8,5 L-1.6,1.4 L-5.8,1 Z" fill="#fff"/>
</g>
<circle cx="999.4" cy="581.1" r="15" fill="url(#bcirc)" stroke="#0a0a30" stroke-width="1.2"/>
<ellipse cx="999.4" cy="569.6" rx="4" ry="1.8" fill="#7FB4EE" opacity="0.8"/>
<path d="M987.8,574.9 H1010.8 L999.2,594.6 Z" fill="#fff"/>
<text x="0" y="0" font-size="16.5" font-weight="bold" font-style="italic" fill="#000" stroke="#000" stroke-width="0.6" text-anchor="middle" transform="translate(999.4 588.4) scale(0.9 1)">4</text>
<g fill="none" stroke="#111" stroke-width="2" stroke-linecap="round" stroke-linejoin="round">
<path d="M1232.76,563.63 C1230.5,565.9 1231.07,574.34 1233.04,574.06 C1235.01,573.77 1235.58,563.63 1237.83,563.92 C1240.65,564.76 1241.21,572.65 1237.83,576.59"/>
<path d="M1235.86,577.6 L1231.1,586.45 L1240.5,586.73 Z"/>
<path d="M1232.76,590.11 C1230.79,592.37 1231.35,600.82 1233.32,600.54 C1235.3,600.25 1235.86,590.11 1237.55,590.39 C1240.37,591.24 1240.93,599.13 1237.55,602.51"/>
</g>
</svg></body></html>
